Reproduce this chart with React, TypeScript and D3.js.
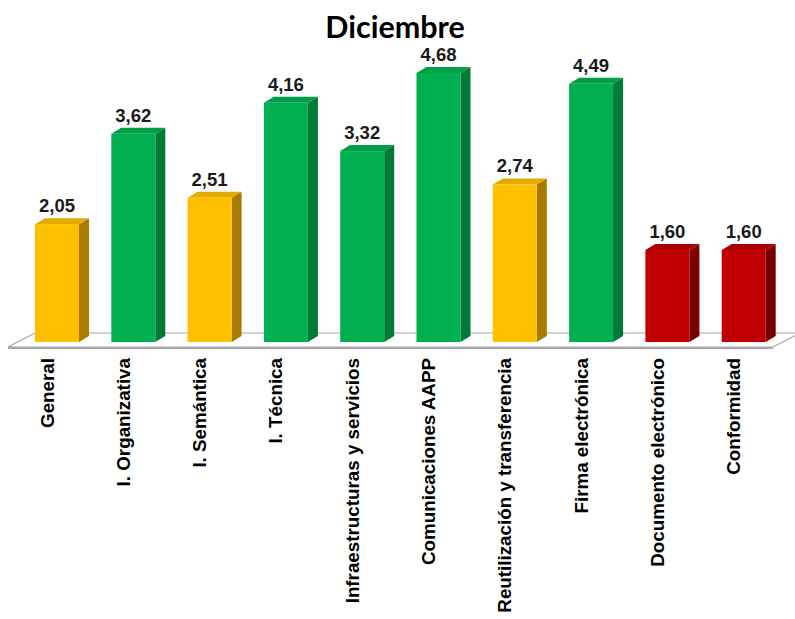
import React from "react";
import * as d3 from "d3";

const categories = [
  "General",
  "I. Organizativa",
  "I. Semántica",
  "I. Técnica",
  "Infraestructuras y servicios",
  "Comunicaciones AAPP",
  "Reutilización y transferencia",
  "Firma electrónica",
  "Documento electrónico",
  "Conformidad",
];
const values = [2.05, 3.62, 2.51, 4.16, 3.32, 4.68, 2.74, 4.49, 1.6, 1.6];
const levels = ["y", "g", "y", "g", "g", "g", "y", "g", "r", "r"];
const title = "Diciembre";

const palette: Record<string, { front: string; top: string; side: string }> = {
  y: { front: "#FFC000", top: "#E3AA00", side: "#A67C00" },
  g: { front: "#00B050", top: "#009E47", side: "#007A37" },
  r: { front: "#C00000", top: "#A90000", side: "#780000" },
};

export default function App() {
  const W = 795;
  const H = 619;
  const base = 342;
  const x = d3
    .scaleBand<string>()
    .domain(categories)
    .range([35, 35 + 9 * 76.3 + 44])
    .paddingInner(1 - 44 / 76.3)
    .paddingOuter(0);
  const y = d3.scaleLinear().domain([0, 5]).range([base, base - 287.5]);
  const dx = 10;
  const dy = -6;
  const fx = 27;
  const fy = -14;
  const floorFront = 347;
  const fl = 8;
  const fr = 773;
  const fmt = (v: number) => d3.format(".2f")(v).replace(".", ",");

  return (
    <svg width={W} height={H} style={{ display: "block", position: "absolute", left: 0, top: 0 }}>
      <rect width={W} height={H} fill="#fff" />
      <text x={395} y={38} textAnchor="middle" fontFamily="Lato, 'Open Sans', sans-serif" fontWeight={700} fontSize={30.5} fill="#000">
        {title}
      </text>
      {/* floor */}
      <path
        d={`M${fl},${floorFront} L${fr},${floorFront} L${fr + fx},${floorFront + fy} L${fl + fx},${floorFront + fy} Z`}
        fill="#fff"
        stroke="#A6A6A6"
        strokeWidth={1.2}
      />
      <line x1={fl} x2={fr} y1={floorFront + 1} y2={floorFront + 1} stroke="#A6A6A6" strokeWidth={2} />
      {categories.map((c, i) => {
        const x0 = x(c)!;
        const bw = x.bandwidth();
        const y0 = y(values[i]);
        const p = palette[levels[i]];
        return (
          <g key={c}>
            <path d={`M${x0 + bw},${y0} L${x0 + bw + dx},${y0 + dy} L${x0 + bw + dx},${base + dy} L${x0 + bw},${base} Z`} fill={p.side} />
            <path d={`M${x0},${y0} L${x0 + dx},${y0 + dy} L${x0 + bw + dx},${y0 + dy} L${x0 + bw},${y0} Z`} fill={p.top} />
            <rect x={x0} y={y0} width={bw} height={base - y0} fill={p.front} />
            <text
              x={x0 + bw / 2}
              y={y0 - 12}
              textAnchor="middle"
              fontFamily="'Liberation Sans', Arial, sans-serif"
              fontWeight={700}
              fontSize={18.5}
              fill="#1a1a1a"
            >
              {fmt(values[i])}
            </text>
            <text
              transform={`translate(${x0 + bw / 2 - 10 + 6.5},358) rotate(-90)`}
              textAnchor="end"
              fontFamily="'Liberation Sans', Arial, sans-serif"
              fontWeight={700}
              fontSize={18.8}
              fill="#000"
            >
              {c}
            </text>
          </g>
        );
      })}
    </svg>
  );
}
